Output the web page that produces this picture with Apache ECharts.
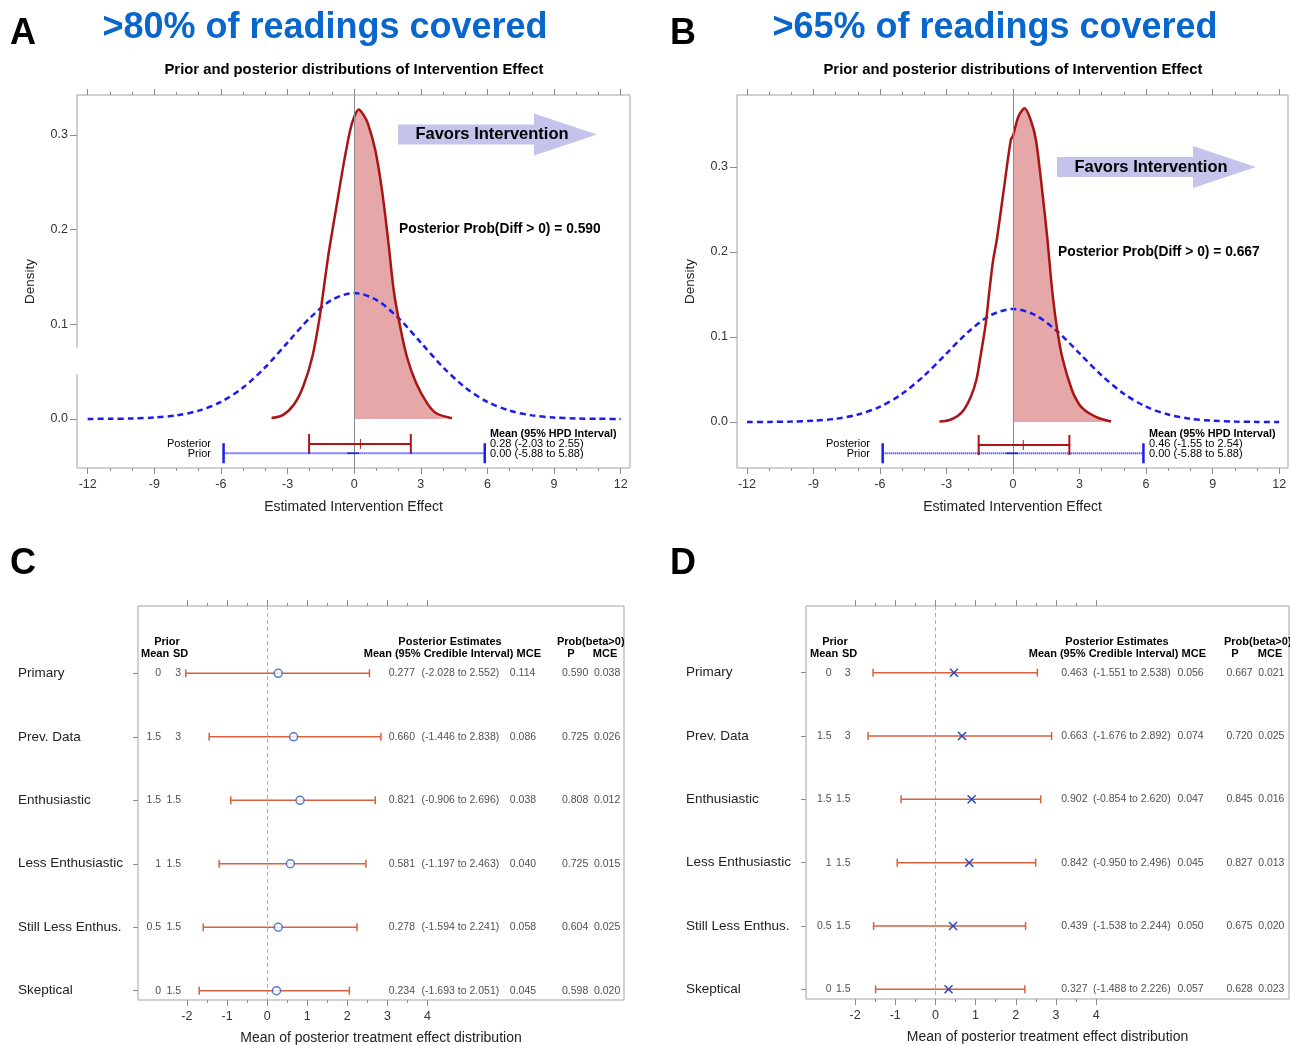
<!DOCTYPE html>
<html>
<head>
<meta charset="utf-8">
<script src="https://cdn.jsdelivr.net/npm/echarts@6/dist/echarts.min.js"></script>
<style>
  html, body { margin: 0; padding: 0; background: #fff; }
  #chart { width: 1290px; height: 1045px; }
</style>
</head>
<body>
<div id="chart"></div>
<script>
const FONT = '"Liberation Sans", Arial, sans-serif';
const FRAME = '#a3a3a3';
const TICK = '#8c8c8c';

// ---- distribution panels (A, B) ----
const tickDist = [-12, -9, -6, -3, 0, 3, 6, 9, 12];
const tickDistMinor = [-11, -10, -8, -7, -5, -4, -2, -1, 1, 2, 4, 5, 7, 8, 10, 11];
const tickDens = [0, 0.1, 0.2, 0.3];

// prior density
const priorX = [-12, -11, -10, -9, -8, -7, -6, -5, -4, -3, -2, -1, 0, 1, 2, 3, 4, 5, 6, 7, 8, 9, 10, 11, 12];
const priorY = [0.00004, 0.00016, 0.0005, 0.0015, 0.0038, 0.0088, 0.018, 0.0332, 0.0547, 0.0807, 0.1065, 0.1258, 0.133,
                0.1258, 0.1065, 0.0807, 0.0547, 0.0332, 0.018, 0.0088, 0.0038, 0.0015, 0.0005, 0.00016, 0.00004];

// posterior density, panel A (>80%)
const postAX = [-3.72, -3.22, -2.72, -2.3, -1.88, -1.55, -1.3, -1.13, -0.8, -0.47, -0.18, 0, 0.2, 0.4, 0.62, 0.95, 1.25, 1.53, 1.78, 2.04, 2.37, 2.79, 3.29, 3.7, 4.4];
const postAY = [0.001, 0.004, 0.015, 0.034, 0.066, 0.108, 0.15, 0.178, 0.224, 0.27, 0.305, 0.319, 0.327, 0.322, 0.312, 0.284, 0.242, 0.189, 0.136, 0.101, 0.066, 0.038, 0.0165, 0.006, 0.0007];

// posterior density, panel B (>65%)
const postBX = [-3.32, -2.9, -2.5, -2.2, -1.9, -1.65, -1.47, -1.23, -1.06, -0.9, -0.73, -0.42, -0.1, 0, 0.25, 0.52, 0.8, 1.03, 1.31, 1.55, 1.76, 1.95, 2.21, 2.65, 3.0, 3.21, 3.45, 3.85, 4.42];
const postBY = [0.0005, 0.002, 0.007, 0.015, 0.03, 0.05, 0.077, 0.116, 0.156, 0.19, 0.215, 0.273, 0.332, 0.337, 0.36, 0.369, 0.355, 0.332, 0.273, 0.215, 0.156, 0.116, 0.077, 0.038, 0.02, 0.0145, 0.01, 0.0047, 0.0005];

// mean, lower, upper (95% HPD)
const hpdA = [0.28, -2.03, 2.55];
const hpdB = [0.46, -1.55, 2.54];
const hpdPrior = [0.00, -5.88, 5.88];
const probA = 0.590;
const probB = 0.667;

// ---- forest panels (C, D) ----
const rowLabels = ['Primary', 'Prev. Data', 'Enthusiastic', 'Less Enthusiastic', 'Still Less Enthus.', 'Skeptical'];
const priorMean = [0, 1.5, 1.5, 1, 0.5, 0];
const priorSD = [3, 3, 1.5, 1.5, 1.5, 1.5];
const tickForest = [-2, -1, 0, 1, 2, 3, 4];
const tickForestMinor = [-1.5, -0.5, 0.5, 1.5, 2.5, 3.5];

const meanC = [0.277, 0.660, 0.821, 0.581, 0.278, 0.234];
const loC   = [-2.028, -1.446, -0.906, -1.197, -1.594, -1.693];
const hiC   = [2.552, 2.838, 2.696, 2.463, 2.241, 2.051];
const mceC  = [0.114, 0.086, 0.038, 0.040, 0.058, 0.045];
const pC    = [0.590, 0.725, 0.808, 0.725, 0.604, 0.598];
const pmceC = [0.038, 0.026, 0.012, 0.015, 0.025, 0.020];

const meanD = [0.463, 0.663, 0.902, 0.842, 0.439, 0.327];
const loD   = [-1.551, -1.676, -0.854, -0.950, -1.538, -1.488];
const hiD   = [2.538, 2.892, 2.620, 2.496, 2.244, 2.226];
const mceD  = [0.056, 0.074, 0.047, 0.045, 0.050, 0.057];
const pD    = [0.667, 0.720, 0.845, 0.827, 0.675, 0.628];
const pmceD = [0.021, 0.025, 0.016, 0.013, 0.020, 0.023];

const pairs = (xs, ys) => xs.map((x, i) => [x, ys[i]]);
const f3 = v => v.toFixed(3);

let myChart = echarts.init(document.getElementById('chart'), null, { renderer: 'canvas' });

const noLine = { show: false, onZero: false };

// four x axes per grid: bottom major/minor, top major/minor
function xAxesFor(grid, min, max, major, minor, name, nameGap) {
  const base = { gridIndex: grid, type: 'value', min: min, max: max, splitLine: { show: false }, axisLine: noLine };
  const tk = len => ({ length: len, lineStyle: { color: TICK } });
  return [
    Object.assign({}, base, {
      position: 'bottom',
      axisTick: Object.assign(tk(6), { customValues: major }),
      axisLabel: { customValues: major, margin: 10, fontSize: 12.5, color: '#333', fontFamily: FONT },
      name: name, nameLocation: 'middle', nameGap: nameGap, nameMoveOverlap: false,
      nameTextStyle: { fontSize: 14, color: '#222', fontFamily: FONT }
    }),
    Object.assign({}, base, { position: 'bottom', axisTick: Object.assign(tk(3), { customValues: minor }), axisLabel: { show: false } }),
    Object.assign({}, base, { position: 'top', axisTick: Object.assign(tk(6), { customValues: major }), axisLabel: { show: false } }),
    Object.assign({}, base, { position: 'top', axisTick: Object.assign(tk(3), { customValues: minor }), axisLabel: { show: false } })
  ];
}

function densAxis(grid, min, max) {
  return {
    gridIndex: grid, type: 'value', min: min, max: max, position: 'left',
    splitLine: { show: false }, axisLine: noLine,
    axisTick: { customValues: tickDens, length: 7, lineStyle: { color: TICK } },
    axisLabel: { customValues: tickDens, formatter: v => v.toFixed(1), margin: 9, fontSize: 12.5, color: '#333', fontFamily: FONT },
    name: 'Density', nameLocation: 'middle', nameGap: 40, nameRotate: 90, nameMoveOverlap: false,
    nameTextStyle: { fontSize: 13.5, color: '#222', fontFamily: FONT }
  };
}

function forestAxis(grid, min, max) {
  const rows = rowLabels.map((_, i) => i);
  return {
    gridIndex: grid, type: 'value', inverse: true, min: min, max: max, position: 'left',
    splitLine: { show: false }, axisLine: noLine,
    axisTick: { customValues: rows, length: 5, lineStyle: { color: TICK } },
    axisLabel: { customValues: rows, formatter: v => rowLabels[Math.round(v)], align: 'left', margin: 120,
                 fontSize: 13.5, color: '#222', fontFamily: FONT }
  };
}

// HPD interval bars under the densities
function postHpdItem(params, api) {
  const y = api.value(3);
  const a = api.coord([api.value(0), y]), b = api.coord([api.value(1), y]), m = api.coord([api.value(2), y]);
  const st = { stroke: '#ad1414', lineWidth: 2 };
  return { type: 'group', children: [
    { type: 'line', shape: { x1: a[0], y1: a[1], x2: b[0], y2: b[1] }, style: st },
    { type: 'line', shape: { x1: a[0], y1: a[1] - 10, x2: a[0], y2: a[1] + 10 }, style: st },
    { type: 'line', shape: { x1: b[0], y1: b[1] - 10, x2: b[0], y2: b[1] + 10 }, style: st },
    { type: 'line', shape: { x1: m[0], y1: m[1] - 5, x2: m[0], y2: m[1] + 5 }, style: { stroke: '#ad1414', lineWidth: 1 } }
  ] };
}
function priorHpdItem(params, api) {
  const y = api.value(3);
  const a = api.coord([api.value(0), y]), b = api.coord([api.value(1), y]), m = api.coord([api.value(2), y]);
  const cap = { stroke: '#1c1cf0', lineWidth: 2.5 };
  return { type: 'group', children: [
    { type: 'line', shape: { x1: a[0], y1: a[1], x2: b[0], y2: b[1] }, style: { stroke: '#1c1cf0', lineWidth: 2, lineDash: [1, 1] } },
    { type: 'line', shape: { x1: a[0], y1: a[1] - 10, x2: a[0], y2: a[1] + 10 }, style: cap },
    { type: 'line', shape: { x1: b[0], y1: b[1] - 10, x2: b[0], y2: b[1] + 10 }, style: cap },
    { type: 'line', shape: { x1: m[0] - 7, y1: m[1], x2: m[0] + 5, y2: m[1] }, style: { stroke: '#1c1cf0', lineWidth: 1.5 } }
  ] };
}

function distSeries(xi, yi, postX, postY, hpd, rowPost, rowPrior) {
  const post = pairs(postX, postY);
  const common = { xAxisIndex: xi, yAxisIndex: yi, silent: true };
  return [
    Object.assign({ type: 'line', data: post.filter(p => p[0] >= 0), smooth: 0.3, symbol: 'none',
      lineStyle: { width: 0 }, areaStyle: { color: '#e5a7a7', opacity: 1 }, z: 1 }, common),
    Object.assign({ type: 'line', data: pairs(priorX, priorY), smooth: 0.3, symbol: 'none',
      lineStyle: { color: '#1c1cf0', width: 2.5, type: [6, 4] }, z: 3,
      markLine: { silent: true, symbol: 'none', label: { show: false },
        lineStyle: { color: '#8a8a8a', width: 1, type: 'solid' }, data: [{ xAxis: 0 }] } }, common),
    Object.assign({ type: 'line', data: post, smooth: 0.3, symbol: 'none',
      lineStyle: { color: '#a81515', width: 2.5 }, z: 4 }, common),
    Object.assign({ type: 'custom', data: [[hpd[1], hpd[2], hpd[0], rowPost]], renderItem: postHpdItem, z: 5 }, common),
    Object.assign({ type: 'custom', data: [[hpdPrior[1], hpdPrior[2], hpdPrior[0], rowPrior]], renderItem: priorHpdItem, z: 5 }, common)
  ];
}

// forest plot pieces
function errBarItem(params, api) {
  const r = api.value(2);
  const a = api.coord([api.value(0), r]), b = api.coord([api.value(1), r]);
  const st = { stroke: '#d9603c', lineWidth: 1.5 };
  return { type: 'group', children: [
    { type: 'line', shape: { x1: a[0], y1: a[1], x2: b[0], y2: b[1] }, style: st },
    { type: 'line', shape: { x1: a[0], y1: a[1] - 4, x2: a[0], y2: a[1] + 4 }, style: st },
    { type: 'line', shape: { x1: b[0], y1: b[1] - 4, x2: b[0], y2: b[1] + 4 }, style: st }
  ] };
}
function crossItem(params, api) {
  const p = api.coord([api.value(0), api.value(1)]);
  const st = { stroke: '#2348c0', lineWidth: 1.5 };
  const s = 4;
  return { type: 'group', children: [
    { type: 'line', shape: { x1: p[0] - s, y1: p[1] - s, x2: p[0] + s, y2: p[1] + s }, style: st },
    { type: 'line', shape: { x1: p[0] - s, y1: p[1] + s, x2: p[0] + s, y2: p[1] - s }, style: st }
  ] };
}

function textCol(xi, yi, xPos, texts, align) {
  return {
    type: 'scatter', xAxisIndex: xi, yAxisIndex: yi, silent: true, z: 6,
    symbolSize: 1, itemStyle: { color: 'transparent' },
    data: texts.map((t, i) => ({ value: [xPos, i], label: { formatter: String(t) } })),
    label: { show: true, position: align === 'right' ? 'left' : 'right', distance: 0,
             fontSize: 10.5, color: '#222', fontFamily: FONT }
  };
}

function forestSeries(xi, yi, mean, lo, hi, mce, p, pmce, cols, marker) {
  const ci = lo.map((l, i) => '(' + f3(l) + ' to ' + f3(hi[i]) + ')');
  const zeroLine = textCol(xi, yi, cols[0], priorMean, 'right');
  zeroLine.markLine = { silent: true, symbol: 'none', label: { show: false }, z: 1,
    lineStyle: { color: '#b0b0b0', width: 1, type: [4, 3] }, data: [{ xAxis: 0 }] };
  const list = [
    zeroLine,
    textCol(xi, yi, cols[1], priorSD, 'right'),
    textCol(xi, yi, cols[2], mean.map(f3), 'left'),
    textCol(xi, yi, cols[3], ci, 'left'),
    textCol(xi, yi, cols[4], mce.map(f3), 'left'),
    textCol(xi, yi, cols[5], p.map(f3), 'left'),
    textCol(xi, yi, cols[6], pmce.map(f3), 'left'),
    { type: 'custom', xAxisIndex: xi, yAxisIndex: yi, silent: true, z: 3,
      data: lo.map((l, i) => [l, hi[i], i]), renderItem: errBarItem }
  ];
  if (marker === 'circle') {
    list.push({ type: 'scatter', xAxisIndex: xi, yAxisIndex: yi, silent: true, z: 4,
      symbol: 'circle', symbolSize: 8,
      itemStyle: { color: '#fff', borderColor: '#2d5fc4', borderWidth: 1.5 },
      data: mean.map((m, i) => [m, i]) });
  } else {
    list.push({ type: 'custom', xAxisIndex: xi, yAxisIndex: yi, silent: true, z: 4,
      data: mean.map((m, i) => [m, i]), renderItem: crossItem });
  }
  return list;
}

// text / shape annotations
function txt(x, y, text, size, opts) {
  opts = opts || {};
  return { type: 'text', x: x, y: y, z: 100, silent: true,
    style: { text: text, font: (opts.bold ? 'bold ' : '') + size + 'px ' + FONT,
             fill: opts.color || '#000', align: opts.align || 'left', verticalAlign: 'middle' } };
}
function arrow(x0, xh, xt, yc) {
  return { type: 'polygon', z: 90, silent: true,
    shape: { points: [[x0, yc - 10], [xh, yc - 10], [xh, yc - 21], [xt, yc], [xh, yc + 21], [xh, yc + 10], [x0, yc + 10]] },
    style: { fill: '#c3c3eb' } };
}
function distNotes(dx, arrowY, probY, hpd, prob) {
  const hpdText = v => v[0].toFixed(2) + ' (' + v[1].toFixed(2) + ' to ' + v[2].toFixed(2) + ')';
  return [
    txt(354 + dx, 70, 'Prior and posterior distributions of Intervention Effect', 14.8, { bold: true, align: 'center' }),
    arrow(398 + dx, 534 + dx, 597 + dx, arrowY),
    txt(492 + dx, arrowY, 'Favors Intervention', 16.5, { bold: true, align: 'center' }),
    txt(399 + dx, probY, 'Posterior Prob(Diff > 0) = ' + prob.toFixed(3), 13.8, { bold: true }),
    txt(211 + dx, 444, 'Posterior', 11, { align: 'right' }),
    txt(211 + dx, 453.5, 'Prior', 11, { align: 'right' }),
    txt(490 + dx, 434.5, 'Mean (95% HPD Interval)', 10.8, { bold: true }),
    txt(490 + dx, 444, hpdText(hpd), 11),
    txt(490 + dx, 453.5, hpdText(hpdPrior), 11)
  ];
}
function forestHeads(dx, cols) {
  return [
    txt(cols.prior + dx, 642, 'Prior', 11, { bold: true, align: 'center' }),
    txt(cols.mean + dx, 654, 'Mean', 11, { bold: true }),
    txt(cols.sd + dx, 654, 'SD', 11, { bold: true }),
    txt(cols.post + dx, 642, 'Posterior Estimates', 11, { bold: true, align: 'center' }),
    txt(cols.postSub + dx, 654, 'Mean (95% Credible Interval) MCE', 11, { bold: true, align: 'right' }),
    txt(cols.prob + dx, 642, 'Prob(beta>0)', 11, { bold: true }),
    txt(cols.p + dx, 654, 'P', 11, { bold: true, align: 'center' }),
    txt(cols.pm + dx, 654, 'MCE', 11, { bold: true, align: 'center' })
  ];
}

const graphics = [].concat(
  [
    txt(10, 34, 'A', 36, { bold: true }),
    txt(670, 34, 'B', 36, { bold: true }),
    txt(10, 564, 'C', 36, { bold: true }),
    txt(670, 564, 'D', 36, { bold: true }),
    txt(325, 28, '>80% of readings covered', 36, { bold: true, align: 'center', color: '#0866cc' }),
    txt(995, 28, '>65% of readings covered', 36, { bold: true, align: 'center', color: '#0866cc' }),
    // small break in the left frame of panel A
    { type: 'rect', z: 100, silent: true, shape: { x: 75, y: 348, width: 4, height: 26 }, style: { fill: '#fff' } }
  ],
  distNotes(0, 134.5, 229.5, hpdA, probA),
  distNotes(659, 167, 252, hpdB, probB),
  forestHeads(0, { prior: 167, mean: 141, sd: 173, post: 450, postSub: 541, prob: 557, p: 571, pm: 605 }),
  forestHeads(668, { prior: 167, mean: 142, sd: 174, post: 449, postSub: 538, prob: 556, p: 567, pm: 602 })
);

const gridBase = { show: true, borderColor: FRAME, borderWidth: 1, backgroundColor: 'transparent', outerBoundsMode: 'none' };

myChart.setOption(option = {
  animation: false,
  backgroundColor: '#fff',
  textStyle: { fontFamily: FONT },
  grid: [
    Object.assign({ left: 77, top: 95, width: 553, height: 373 }, gridBase),
    Object.assign({ left: 737, top: 95, width: 551, height: 373 }, gridBase),
    Object.assign({ left: 138, top: 606, width: 486, height: 394 }, gridBase),
    Object.assign({ left: 806, top: 606, width: 483, height: 393 }, gridBase)
  ],
  xAxis: [].concat(
    xAxesFor(0, -12.48, 12.42, tickDist, tickDistMinor, 'Estimated Intervention Effect', 32),
    xAxesFor(1, -12.45, 12.40, tickDist, tickDistMinor, 'Estimated Intervention Effect', 32),
    xAxesFor(2, -3.22, 8.9, tickForest, tickForestMinor, 'Mean of posterior treatment effect distribution', 31),
    xAxesFor(3, -3.22, 8.8, tickForest, tickForestMinor, 'Mean of posterior treatment effect distribution', 31)
  ),
  yAxis: [
    densAxis(0, -0.0518, 0.3422),
    densAxis(1, -0.0541, 0.3847),
    forestAxis(2, -1.06, 5.146),
    forestAxis(3, -1.053, 5.153)
  ],
  series: [].concat(
    distSeries(0, 0, postAX, postAY, hpdA, -0.0264, -0.0362),
    distSeries(4, 1, postBX, postBY, hpdB, -0.0271, -0.0368),
    forestSeries(8, 2, meanC, loC, hiC, mceC, pC, pmceC, [-2.63, -2.13, 3.02, 3.84, 6.04, 7.34, 8.14], 'circle'),
    forestSeries(12, 3, meanD, loD, hiD, mceD, pD, pmceD, [-2.57, -2.10, 3.12, 3.91, 6.01, 7.23, 8.02], 'cross')
  ),
  graphic: graphics
});

window.addEventListener('resize', function () {
  myChart.resize();
});
</script>
</body>
</html>
